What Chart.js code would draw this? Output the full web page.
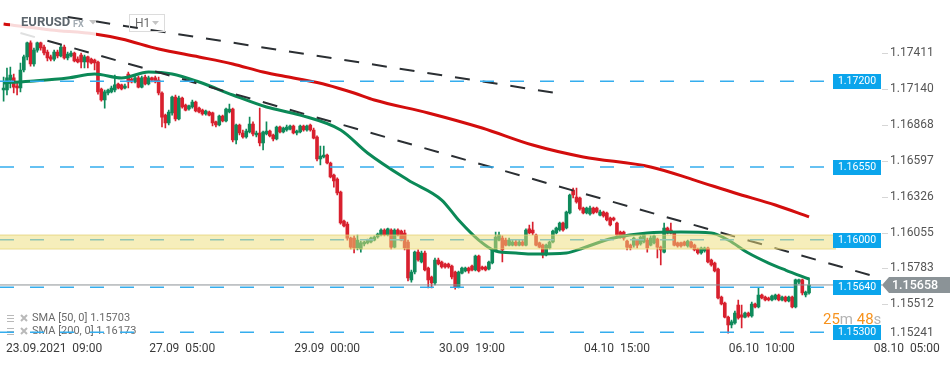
<!DOCTYPE html>
<html>
<head>
<meta charset="utf-8">
<script src="https://cdn.jsdelivr.net/npm/chart.js@4.4.1/dist/chart.umd.min.js"></script>
<style>
html, body { margin: 0; padding: 0; background: #fff; }
#wrap { width: 950px; height: 365px; }
</style>
</head>
<body>
<div id="wrap"><canvas id="chart" width="950" height="365"></canvas></div>
<script>
// EURUSD H1: candles, SMA 50 / SMA 200, two trend lines, marked levels and a zone.

// one entry per hourly candle, bar 0 = 22.09 23:00, bar 239 = 07.10 00:00 (still open)
const opens = [
  1.17134, 1.17134, 1.17209, 1.17225, 1.17164, 1.17149, 1.17285, 1.17384, 1.17490, 1.17331,
  1.17436, 1.17490, 1.17459, 1.17421, 1.17384, 1.17368, 1.17421, 1.17391, 1.17459, 1.17376,
  1.17391, 1.17414, 1.17368, 1.17399, 1.17346, 1.17384, 1.17368, 1.17361, 1.17346, 1.17141,
  1.17058, 1.17111, 1.17119, 1.17134, 1.17179, 1.17172, 1.17149, 1.17255, 1.17217, 1.17194,
  1.17225, 1.17156, 1.17232, 1.17179, 1.17225, 1.17225, 1.17209, 1.17111, 1.16944, 1.16884,
  1.16960, 1.17081, 1.16914, 1.17073, 1.17020, 1.16990, 1.17005, 1.17043, 1.16997, 1.16982,
  1.16952, 1.16967, 1.16960, 1.16892, 1.16869, 1.16937, 1.16899, 1.16967, 1.16990, 1.16755,
  1.16869, 1.16808, 1.16778, 1.16816, 1.16876, 1.16793, 1.16808, 1.16733, 1.16801, 1.16823,
  1.16793, 1.16763, 1.16854, 1.16816, 1.16831, 1.16838, 1.16861, 1.16808, 1.16816, 1.16861,
  1.16831, 1.16869, 1.16831, 1.16778, 1.16612, 1.16627, 1.16642, 1.16581, 1.16490, 1.16460,
  1.16362, 1.16142, 1.16119, 1.16013, 1.16013, 1.15938, 1.15930, 1.15968, 1.15976, 1.15983,
  1.15998, 1.16021, 1.16036, 1.16074, 1.16036, 1.16074, 1.15945, 1.16074, 1.16066, 1.16051,
  1.15983, 1.15696, 1.15756, 1.15907, 1.15832, 1.15900, 1.15786, 1.15718, 1.15673, 1.15847,
  1.15832, 1.15817, 1.15817, 1.15801, 1.15756, 1.15643, 1.15748, 1.15764, 1.15786, 1.15801,
  1.15771, 1.15877, 1.15794, 1.15794, 1.15779, 1.15824, 1.15923, 1.15998, 1.16013, 1.15998,
  1.15960, 1.15960, 1.15983, 1.15960, 1.15983, 1.15960, 1.16082, 1.16074, 1.16036, 1.15976,
  1.15960, 1.15885, 1.15938, 1.15983, 1.16051, 1.16074, 1.16127, 1.16089, 1.16203, 1.16377,
  1.16324, 1.16316, 1.16240, 1.16203, 1.16195, 1.16240, 1.16240, 1.16187, 1.16210, 1.16203,
  1.16165, 1.16165, 1.16127, 1.16059, 1.16059, 1.15991, 1.15960, 1.15960, 1.15998, 1.15968,
  1.15983, 1.15998, 1.15960, 1.15976, 1.16006, 1.15945, 1.15907, 1.16089, 1.16074, 1.16051,
  1.15976, 1.15976, 1.15983, 1.15953, 1.15983, 1.15960, 1.15930, 1.15900, 1.15915, 1.15938,
  1.15847, 1.15824, 1.15779, 1.15567, 1.15521, 1.15415, 1.15355, 1.15370, 1.15506, 1.15431,
  1.15415, 1.15446, 1.15423, 1.15514, 1.15491, 1.15582, 1.15567, 1.15559, 1.15544, 1.15552,
  1.15582, 1.15544, 1.15567, 1.15537, 1.15567, 1.15491, 1.15680, 1.15696, 1.15582, 1.15597
];
const highs = [
  1.17232, 1.17300, 1.17308, 1.17255, 1.17194, 1.17338, 1.17399, 1.17497, 1.17505, 1.17452,
  1.17497, 1.17497, 1.17474, 1.17436, 1.17399, 1.17436, 1.17436, 1.17474, 1.17474, 1.17421,
  1.17429, 1.17421, 1.17384, 1.17414, 1.17399, 1.17391, 1.17376, 1.17368, 1.17353, 1.17149,
  1.17134, 1.17141, 1.17164, 1.17247, 1.17187, 1.17179, 1.17179, 1.17270, 1.17225, 1.17240,
  1.17240, 1.17240, 1.17247, 1.17240, 1.17232, 1.17240, 1.17232, 1.17119, 1.16952, 1.16982,
  1.17088, 1.17096, 1.17088, 1.17081, 1.17028, 1.17020, 1.17058, 1.17050, 1.17005, 1.16990,
  1.16982, 1.16975, 1.16967, 1.16899, 1.16944, 1.16944, 1.16997, 1.17028, 1.16997, 1.16876,
  1.16876, 1.16831, 1.16838, 1.16929, 1.16892, 1.16823, 1.16997, 1.16823, 1.16892, 1.16831,
  1.16801, 1.16861, 1.16861, 1.16854, 1.16869, 1.16869, 1.16869, 1.16831, 1.16869, 1.16869,
  1.16869, 1.16876, 1.16846, 1.16786, 1.16710, 1.16710, 1.16649, 1.16589, 1.16498, 1.16468,
  1.16369, 1.16150, 1.16134, 1.16021, 1.16029, 1.16036, 1.15991, 1.15991, 1.16006, 1.16021,
  1.16029, 1.16051, 1.16082, 1.16082, 1.16089, 1.16082, 1.16082, 1.16082, 1.16074, 1.16074,
  1.15998, 1.15771, 1.15915, 1.15923, 1.15915, 1.15915, 1.15794, 1.15726, 1.15862, 1.15862,
  1.15839, 1.15824, 1.15824, 1.15809, 1.15764, 1.15764, 1.15794, 1.15794, 1.15794, 1.15809,
  1.15885, 1.15885, 1.15801, 1.15801, 1.15839, 1.15930, 1.16059, 1.16059, 1.16029, 1.16013,
  1.16013, 1.15998, 1.15998, 1.15998, 1.15998, 1.16082, 1.16112, 1.16134, 1.16044, 1.15983,
  1.15968, 1.15968, 1.15991, 1.16074, 1.16097, 1.16134, 1.16134, 1.16218, 1.16346, 1.16392,
  1.16392, 1.16324, 1.16248, 1.16248, 1.16256, 1.16248, 1.16248, 1.16225, 1.16218, 1.16210,
  1.16172, 1.16172, 1.16134, 1.16066, 1.16066, 1.15998, 1.15968, 1.16021, 1.16006, 1.16029,
  1.16051, 1.16013, 1.16029, 1.16036, 1.16013, 1.15953, 1.16127, 1.16097, 1.16127, 1.16059,
  1.15983, 1.15983, 1.15991, 1.15998, 1.15991, 1.15968, 1.15938, 1.15945, 1.15945, 1.15945,
  1.15854, 1.15832, 1.15786, 1.15574, 1.15529, 1.15423, 1.15393, 1.15461, 1.15544, 1.15506,
  1.15453, 1.15453, 1.15529, 1.15521, 1.15635, 1.15589, 1.15574, 1.15567, 1.15582, 1.15589,
  1.15589, 1.15574, 1.15574, 1.15574, 1.15574, 1.15703, 1.15703, 1.15703, 1.15612, 1.15711
];
const lows = [
  1.17050, 1.17096, 1.17149, 1.17111, 1.17096, 1.17119, 1.17270, 1.17361, 1.17315, 1.17315,
  1.17421, 1.17436, 1.17399, 1.17353, 1.17353, 1.17353, 1.17376, 1.17384, 1.17368, 1.17361,
  1.17384, 1.17346, 1.17338, 1.17300, 1.17300, 1.17300, 1.17331, 1.17285, 1.17103, 1.17050,
  1.16997, 1.17096, 1.17111, 1.17119, 1.17141, 1.17134, 1.17141, 1.17149, 1.17187, 1.17187,
  1.17149, 1.17149, 1.17172, 1.17172, 1.17194, 1.17187, 1.17096, 1.16854, 1.16846, 1.16869,
  1.16944, 1.16899, 1.16907, 1.16997, 1.16975, 1.16982, 1.16997, 1.16967, 1.16960, 1.16944,
  1.16944, 1.16937, 1.16861, 1.16854, 1.16861, 1.16892, 1.16892, 1.16960, 1.16740, 1.16725,
  1.16793, 1.16770, 1.16770, 1.16808, 1.16786, 1.16778, 1.16710, 1.16680, 1.16793, 1.16778,
  1.16748, 1.16755, 1.16808, 1.16808, 1.16823, 1.16831, 1.16801, 1.16793, 1.16808, 1.16823,
  1.16823, 1.16823, 1.16763, 1.16596, 1.16566, 1.16619, 1.16574, 1.16468, 1.16399, 1.16339,
  1.16119, 1.16097, 1.15998, 1.15930, 1.15900, 1.15923, 1.15907, 1.15953, 1.15968, 1.15976,
  1.15991, 1.16013, 1.16029, 1.16029, 1.16029, 1.15930, 1.15938, 1.16029, 1.15991, 1.15923,
  1.15688, 1.15680, 1.15741, 1.15839, 1.15824, 1.15764, 1.15635, 1.15635, 1.15658, 1.15809,
  1.15786, 1.15786, 1.15786, 1.15703, 1.15627, 1.15635, 1.15741, 1.15756, 1.15748, 1.15764,
  1.15764, 1.15756, 1.15771, 1.15764, 1.15771, 1.15817, 1.15915, 1.15991, 1.15832, 1.15953,
  1.15953, 1.15953, 1.15953, 1.15953, 1.15953, 1.15953, 1.16044, 1.16036, 1.15953, 1.15938,
  1.15862, 1.15877, 1.15930, 1.15976, 1.16044, 1.16066, 1.16066, 1.16082, 1.16195, 1.16316,
  1.16278, 1.16225, 1.16195, 1.16195, 1.16187, 1.16195, 1.16203, 1.16180, 1.16172, 1.16142,
  1.16104, 1.16142, 1.16029, 1.16013, 1.15998, 1.15923, 1.15923, 1.15945, 1.15938, 1.15960,
  1.15976, 1.15907, 1.15953, 1.15968, 1.15862, 1.15809, 1.15900, 1.16044, 1.16044, 1.15953,
  1.15945, 1.15945, 1.15953, 1.15945, 1.15938, 1.15915, 1.15892, 1.15892, 1.15907, 1.15824,
  1.15801, 1.15756, 1.15552, 1.15506, 1.15408, 1.15294, 1.15332, 1.15362, 1.15400, 1.15332,
  1.15408, 1.15415, 1.15415, 1.15484, 1.15484, 1.15552, 1.15537, 1.15537, 1.15537, 1.15544,
  1.15537, 1.15537, 1.15529, 1.15529, 1.15484, 1.15484, 1.15665, 1.15582, 1.15567, 1.15589
];
const closes = [
  1.17149, 1.17225, 1.17247, 1.17156, 1.17149, 1.17285, 1.17384, 1.17490, 1.17331, 1.17436,
  1.17490, 1.17452, 1.17414, 1.17376, 1.17368, 1.17421, 1.17391, 1.17459, 1.17376, 1.17406,
  1.17414, 1.17353, 1.17346, 1.17346, 1.17384, 1.17346, 1.17338, 1.17338, 1.17119, 1.17058,
  1.17119, 1.17134, 1.17149, 1.17172, 1.17149, 1.17141, 1.17164, 1.17194, 1.17194, 1.17225,
  1.17156, 1.17225, 1.17179, 1.17225, 1.17209, 1.17194, 1.17111, 1.16929, 1.16884, 1.16967,
  1.17081, 1.16914, 1.17073, 1.17005, 1.16982, 1.17013, 1.17043, 1.16975, 1.16967, 1.16952,
  1.16975, 1.16944, 1.16884, 1.16869, 1.16937, 1.16899, 1.16990, 1.16990, 1.16755, 1.16869,
  1.16808, 1.16778, 1.16823, 1.16876, 1.16801, 1.16808, 1.16733, 1.16816, 1.16823, 1.16786,
  1.16763, 1.16854, 1.16816, 1.16846, 1.16854, 1.16861, 1.16808, 1.16823, 1.16861, 1.16831,
  1.16861, 1.16831, 1.16770, 1.16612, 1.16634, 1.16642, 1.16581, 1.16475, 1.16445, 1.16354,
  1.16127, 1.16104, 1.16013, 1.15945, 1.15938, 1.15998, 1.15976, 1.15983, 1.15998, 1.16013,
  1.16021, 1.16044, 1.16074, 1.16036, 1.16082, 1.15945, 1.16074, 1.16036, 1.15998, 1.15938,
  1.15711, 1.15756, 1.15907, 1.15847, 1.15900, 1.15771, 1.15696, 1.15673, 1.15847, 1.15817,
  1.15794, 1.15794, 1.15794, 1.15718, 1.15643, 1.15756, 1.15786, 1.15786, 1.15764, 1.15771,
  1.15877, 1.15764, 1.15779, 1.15771, 1.15832, 1.15923, 1.16021, 1.16036, 1.15923, 1.15960,
  1.15998, 1.15983, 1.15960, 1.15983, 1.15960, 1.16074, 1.16051, 1.16051, 1.15960, 1.15945,
  1.15885, 1.15960, 1.15983, 1.16066, 1.16089, 1.16127, 1.16074, 1.16210, 1.16339, 1.16339,
  1.16286, 1.16233, 1.16203, 1.16240, 1.16240, 1.16203, 1.16210, 1.16210, 1.16180, 1.16150,
  1.16112, 1.16150, 1.16036, 1.16021, 1.16013, 1.15945, 1.15938, 1.16013, 1.15960, 1.16021,
  1.16036, 1.15938, 1.16013, 1.16029, 1.15945, 1.15923, 1.16089, 1.16051, 1.16051, 1.15960,
  1.15953, 1.15953, 1.15960, 1.15991, 1.15945, 1.15923, 1.15900, 1.15938, 1.15938, 1.15832,
  1.15809, 1.15764, 1.15559, 1.15514, 1.15415, 1.15355, 1.15378, 1.15446, 1.15408, 1.15415,
  1.15446, 1.15423, 1.15514, 1.15491, 1.15582, 1.15559, 1.15544, 1.15544, 1.15574, 1.15582,
  1.15544, 1.15567, 1.15537, 1.15567, 1.15491, 1.15696, 1.15696, 1.15597, 1.15605, 1.15658
];

// moving averages (bar index -> value)
const sma50Bars = [0, 9, 19, 27, 35, 43, 50, 58, 68, 78, 88, 100, 108, 120, 130, 135, 141, 146,
  152, 157, 167, 172, 177, 181, 191, 201, 210, 215, 221, 227, 232, 239];
const sma50Vals = [1.17187, 1.17202, 1.17225, 1.17255, 1.17225, 1.17270, 1.17255, 1.17194, 1.17096,
  1.17005, 1.16944, 1.16831, 1.16657, 1.16452, 1.16301, 1.16150, 1.15998, 1.15915, 1.15900,
  1.15892, 1.15900, 1.15938, 1.15983, 1.16013, 1.16051, 1.16059, 1.16051, 1.15998, 1.15900,
  1.15824, 1.15771, 1.15703];
const sma200Bars = [0, 14, 27, 35, 46, 58, 68, 77, 86, 96, 104, 110, 126, 142, 157, 172, 192, 205,
  217, 229, 239];
const sma200Vals = [1.17633, 1.17588, 1.17558, 1.17520, 1.17444, 1.17384, 1.17331, 1.17270, 1.17225,
  1.17172, 1.17111, 1.17058, 1.16960, 1.16846, 1.16717, 1.16627, 1.16551, 1.16452, 1.16354,
  1.16263, 1.16173];

// hand drawn trend lines: [start, end]
const trendUpperBars = [19, 164];
const trendUpperVals = [1.17686, 1.17111];
const trendLowerBars = [5, 258];
const trendLowerVals = [1.17565, 1.15726];

const levelVals = [1.17200, 1.16550, 1.16000, 1.15640, 1.15300];
const zoneVals = [1.16036, 1.15930];
const lastPrice = 1.15658;

// the platform pins the first date label to the left edge, so it sits a few bars late
const xTickBars = [15, 53, 96, 139, 182, 225, 268];
const xTickLabels = ['23.09.2021  09:00', '27.09  05:00', '29.09  00:00', '30.09  19:00',
  '04.10  15:00', '06.10  10:00', '08.10  05:00'];
const yTickVals = [1.17411, 1.17140, 1.16868, 1.16597, 1.16326, 1.16055, 1.15783, 1.15512, 1.15241];

const X_MIN = -1.07, X_MAX = 260.65;
const Y_MIN = 1.15252, Y_MAX = 1.17815;
const LEVEL_END = 244, ZONE_END = 247;

const UP = '#0f8a5b', DOWN = '#d8202e';
const BLUE = '#0ba5ec', ORANGE = '#f7931e';

Chart.defaults.font.family = 'Roboto';

const bars = opens.map((_, i) => i);
const candleColors = bars.map(i => closes[i] >= opens[i] ? UP : DOWN);

function pts(xs, ys) { return xs.map((x, i) => ({ x: x, y: ys[i] })); }
function flat(v, end) { return [{ x: X_MIN, y: v }, { x: end, y: v }]; }

const datasets = [
  {
    type: 'bar', label: 'wicks', order: 10, grouped: false, barThickness: 1,
    data: bars.map(i => ({ x: i, y: [lows[i], highs[i]] })),
    backgroundColor: candleColors
  },
  {
    type: 'bar', label: 'bodies', order: 9, grouped: false, barThickness: 3,
    data: bars.map(i => ({ x: i, y: [opens[i], closes[i]] })),
    backgroundColor: candleColors
  },
  {
    type: 'line', label: 'SMA 200', order: 7, data: pts(sma200Bars, sma200Vals),
    borderColor: '#d30d0d', borderWidth: 3, pointRadius: 0, cubicInterpolationMode: 'monotone'
  },
  {
    type: 'line', label: 'SMA 50', order: 6, data: pts(sma50Bars, sma50Vals),
    borderColor: '#0b8957', borderWidth: 3, pointRadius: 0, cubicInterpolationMode: 'monotone'
  },
  {
    type: 'line', label: 'trend upper', order: 5, data: pts(trendUpperBars, trendUpperVals),
    borderColor: '#2b2f33', borderWidth: 2, borderDash: [15, 13], pointRadius: 0
  },
  {
    type: 'line', label: 'trend lower', order: 5, data: pts(trendLowerBars, trendLowerVals),
    borderColor: '#2b2f33', borderWidth: 2, borderDash: [15, 13], pointRadius: 0
  }
];
levelVals.forEach(v => datasets.push({
  type: 'line', label: 'level ' + v, order: 4, data: flat(v, LEVEL_END),
  borderColor: '#34adee', borderWidth: 1.5, borderDash: [14, 16], pointRadius: 0
}));
datasets.push({
  type: 'line', label: 'last', order: 3, data: flat(lastPrice, X_MAX),
  borderColor: '#8c9296', borderWidth: 1, pointRadius: 0
});
// zone goes on top of everything, semi transparent
datasets.push({
  type: 'line', label: 'zone top', order: 0, data: flat(zoneVals[0], ZONE_END),
  borderColor: 'rgba(226,206,110,0.7)', borderWidth: 1, pointRadius: 0,
  fill: '+1', backgroundColor: 'rgba(237,222,120,0.5)'
});
datasets.push({
  type: 'line', label: 'zone bottom', order: 1, data: flat(zoneVals[1], ZONE_END),
  borderColor: 'rgba(226,206,110,0.7)', borderWidth: 1, pointRadius: 0, fill: false
});

const overlay = {
  id: 'overlay',
  beforeDatasetsDraw(chart) {
    // SMA legend, bottom left
    const ctx = chart.ctx;
    ctx.save();
    const rows = [['SMA [50, 0] ', sma50Vals, 318], ['SMA [200, 0] ', sma200Vals, 331]];
    rows.forEach(([txt, vals, ty]) => {
      ctx.strokeStyle = '#b9b9b9'; ctx.lineWidth = 1.2;
      ctx.beginPath();
      [-3, 0, 3].forEach(d => { ctx.moveTo(7, ty + d + 0.5); ctx.lineTo(14, ty + d + 0.5); });
      ctx.stroke();
      ctx.lineWidth = 2;
      ctx.beginPath();
      ctx.moveTo(21, ty - 3); ctx.lineTo(27, ty + 3);
      ctx.moveTo(27, ty - 3); ctx.lineTo(21, ty + 3);
      ctx.stroke();
      ctx.font = '11px Roboto'; ctx.fillStyle = '#6a6a6a';
      ctx.textAlign = 'left'; ctx.textBaseline = 'middle';
      ctx.fillText(txt + vals[vals.length - 1].toFixed(5), 32, ty);
    });
    ctx.restore();
  },
  afterDraw(chart) {
    const ctx = chart.ctx, y = chart.scales.y;
    ctx.save();

    // symbol header, top left
    ctx.fillStyle = 'rgba(255,255,255,0.85)';
    ctx.fillRect(10, 21, 86, 17);
    ctx.textBaseline = 'middle'; ctx.textAlign = 'left';
    ctx.font = 'bold 13px Roboto'; ctx.fillStyle = '#5d666d';
    ctx.fillText('EURUSD', 21, 23);
    ctx.font = 'bold 9px Roboto'; ctx.fillStyle = '#a2abb2';
    ctx.fillText('FX', 73, 25);
    ctx.fillStyle = '#c4c4c4';
    ctx.beginPath(); ctx.moveTo(89, 20); ctx.lineTo(97, 20); ctx.lineTo(93, 24.5); ctx.fill();
    ctx.strokeStyle = '#dcdcdc'; ctx.lineWidth = 1;
    ctx.strokeRect(129.5, 14.5, 35, 17);
    ctx.font = '12px Roboto'; ctx.fillStyle = '#6b6b6b';
    ctx.fillText('H1', 135, 23.5);
    ctx.fillStyle = '#c4c4c4';
    ctx.beginPath(); ctx.moveTo(152, 21); ctx.lineTo(159, 21); ctx.lineTo(155.5, 25); ctx.fill();

    // small tick marks next to the price scale
    ctx.strokeStyle = '#d6d6d6';
    ctx.beginPath();
    yTickVals.slice(0, -1).forEach(v => {
      const py = Math.round(y.getPixelForValue(v)) + 0.5;
      ctx.moveTo(882, py); ctx.lineTo(888, py);
    });
    ctx.stroke();

    // level tags
    ctx.font = '10.5px Roboto'; ctx.textAlign = 'center';
    levelVals.forEach(v => {
      const py = Math.round(y.getPixelForValue(v));
      ctx.fillStyle = BLUE;
      ctx.fillRect(833, py - 7, 48, 15);
      ctx.fillStyle = '#fff';
      ctx.fillText(v.toFixed(5), 857, py + 0.5);
    });

    // last price tag
    const lp = Math.round(y.getPixelForValue(lastPrice));
    ctx.fillStyle = '#8b9397';
    ctx.beginPath();
    ctx.moveTo(882, lp); ctx.lineTo(889, lp - 8); ctx.lineTo(950, lp - 8);
    ctx.lineTo(950, lp + 8); ctx.lineTo(889, lp + 8); ctx.closePath(); ctx.fill();
    ctx.fillStyle = '#fff'; ctx.font = '500 12.5px Roboto'; ctx.textAlign = 'left';
    ctx.fillText(lastPrice.toFixed(5), 892, lp + 0.5);

    // candle countdown
    ctx.font = '15px Roboto';
    let cx = 823;
    [['25', ORANGE], ['m', '#b3b3b3'], [' 48', ORANGE], ['s', '#b3b3b3']].forEach(([t, c]) => {
      ctx.fillStyle = c; ctx.fillText(t, cx, 320);
      cx += ctx.measureText(t).width;
    });
    ctx.restore();
  }
};

new Chart(document.getElementById('chart'), {
  type: 'bar',
  data: { datasets: datasets },
  options: {
    responsive: false, animation: false, events: [],
    layout: { padding: { bottom: 6 } },
    plugins: { legend: { display: false }, tooltip: { enabled: false } },
    scales: {
      x: {
        type: 'linear', min: X_MIN, max: X_MAX, offset: false, bounds: 'data',
        grid: { display: false, drawTicks: false }, border: { display: false },
        afterBuildTicks: s => { s.ticks = xTickBars.map(v => ({ value: v })); },
        ticks: {
          autoSkip: false, maxRotation: 0, padding: 3, color: '#3a3a3a',
          font: { size: 12 }, callback: (v, i) => xTickLabels[i]
        }
      },
      y: {
        type: 'linear', position: 'right', min: Y_MIN, max: Y_MAX, bounds: 'data',
        grid: { display: false, drawTicks: false }, border: { display: false },
        afterBuildTicks: s => { s.ticks = yTickVals.map(v => ({ value: v })); },
        // fixed width, and the plot runs right up to the top edge
        afterFit: s => { s.width = 68; s.paddingTop = 0; s.paddingBottom = 0; },
        ticks: {
          padding: 8, color: '#555', font: { size: 12 },
          // bottom label is lifted off the edge like on the platform
          callback: (v, i) => i === yTickVals.length - 1 ? [v.toFixed(5), ''] : v.toFixed(5)
        }
      }
    }
  },
  plugins: [overlay]
});
</script>
</body>
</html>
